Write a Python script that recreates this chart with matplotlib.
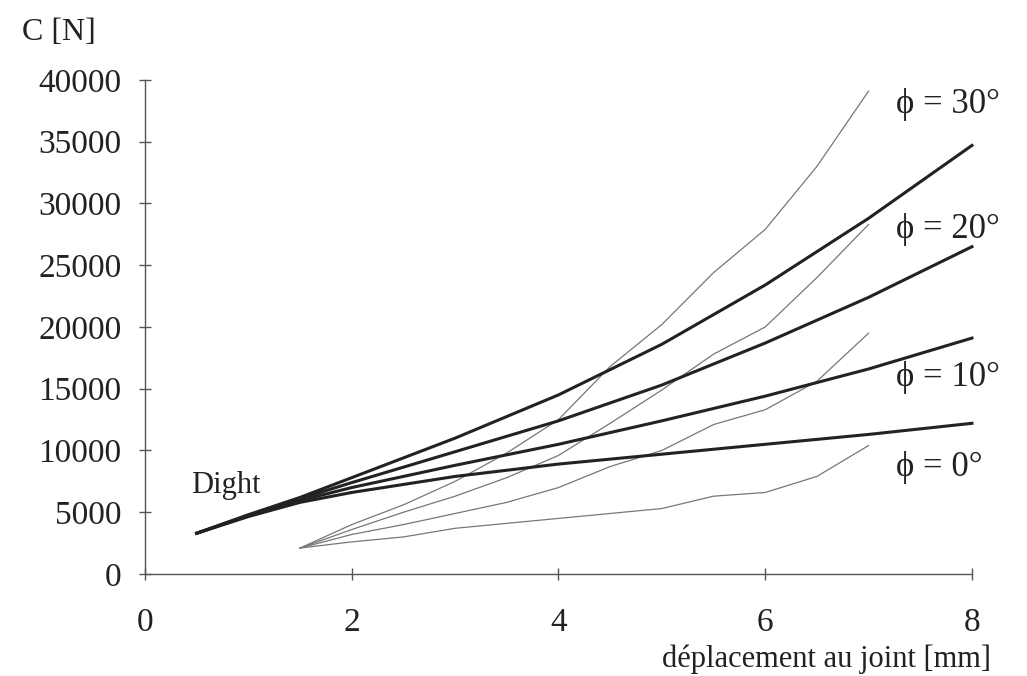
import matplotlib.pyplot as plt

plt.rcParams['font.family'] = ['Liberation Serif', 'DejaVu Serif']

# Dight model (thick curves), one per friction angle
x_dight = [0.5, 1, 1.5, 2, 3, 4, 5, 6, 7, 8]
dight_30 = [3300, 4800, 6200, 7800, 11000, 14500, 18600, 23400, 28800, 34700]
dight_20 = [3300, 4750, 6100, 7400, 9900, 12400, 15300, 18700, 22400, 26500]
dight_10 = [3300, 4700, 5950, 7000, 8800, 10500, 12400, 14400, 16600, 19100]
dight_0 = [3300, 4650, 5800, 6600, 7900, 8900, 9700, 10500, 11300, 12200]

# measured curves (thin)
x_mes = [1.5, 2, 2.5, 3, 3.5, 4, 4.5, 5, 5.5, 6, 6.5, 7]
mes_a = [2100, 4000, 5600, 7500, 9800, 12500, 16800, 20200, 24400, 27900, 33000, 39100]
mes_b = [2100, 3600, 5000, 6300, 7800, 9600, 12200, 14900, 17800, 20000, 24000, 28300]
mes_c = [2100, 3200, 4000, 4900, 5800, 7000, 8700, 10000, 12100, 13300, 15600, 19500]
mes_d = [2100, 2600, 3000, 3700, 4100, 4500, 4900, 5300, 6300, 6600, 7900, 10400]

phi_labels = ['ϕ = 30°', 'ϕ = 20°', 'ϕ = 10°', 'ϕ = 0°']
phi_y = [38000, 27900, 15900, 8600]

fig = plt.figure(figsize=(10.27, 6.76), dpi=100)
ax = fig.add_axes([0.1412, 0.1509, 0.8052, 0.7308])

for ys in [mes_a, mes_b, mes_c, mes_d]:
    ax.plot(x_mes, ys, color='#777777', lw=0.9, clip_on=False)
for ys in [dight_30, dight_20, dight_10, dight_0]:
    ax.plot(x_dight, ys, color='#222222', lw=2.2, clip_on=False)

ax.set_xlim(0, 8)
ax.set_ylim(0, 40000)
ax.set_xticks([0, 2, 4, 6, 8])
ax.set_yticks(range(0, 40001, 5000))
ax.spines['top'].set_visible(False)
ax.spines['right'].set_visible(False)
for s in ['left', 'bottom']:
    ax.spines[s].set_color('#555555')
    ax.spines[s].set_linewidth(1.0)
ax.tick_params(axis='both', direction='inout', length=8, width=1, color='#555555',
               labelsize=24, labelcolor='#222222')
ax.tick_params(axis='y', pad=13)
ax.tick_params(axis='x', pad=20)

for lab, yy in zip(phi_labels, phi_y):
    ax.text(7.27, yy, lab, fontsize=25, color='#222222', va='center', ha='left')

ax.text(0.45, 7200, 'Dight', fontsize=22, color='#222222', va='center', ha='left')
fig.text(0.021, 0.952, 'C [N]', fontsize=23, color='#222222', va='center', ha='left')
fig.text(0.965, 0.025, 'déplacement au joint [mm]', fontsize=22, color='#222222',
         va='center', ha='right')

fig.savefig('out.png', dpi=100)
